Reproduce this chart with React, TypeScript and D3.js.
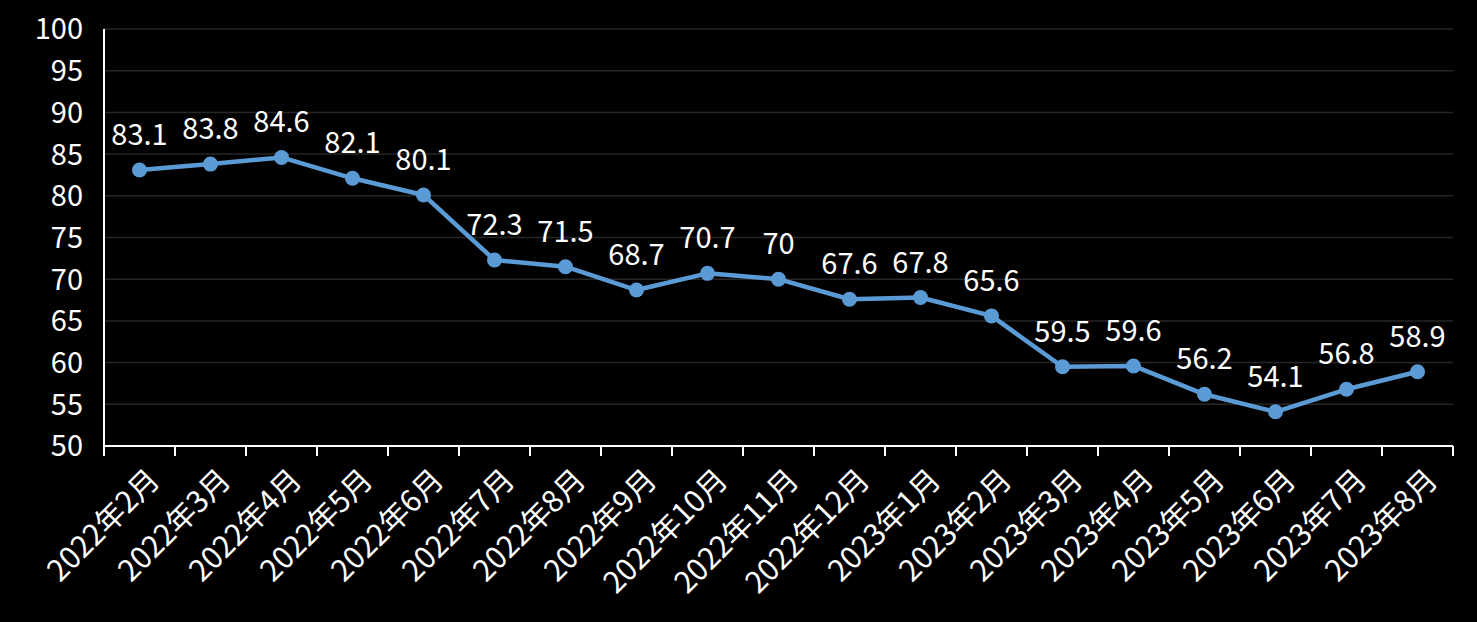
import React from "react";
import * as d3 from "d3";

const categories = ["2022年2月","2022年3月","2022年4月","2022年5月","2022年6月","2022年7月","2022年8月","2022年9月","2022年10月","2022年11月","2022年12月","2023年1月","2023年2月","2023年3月","2023年4月","2023年5月","2023年6月","2023年7月","2023年8月"];
const values = [83.1,83.8,84.6,82.1,80.1,72.3,71.5,68.7,70.7,70,67.6,67.8,65.6,59.5,59.6,56.2,54.1,56.8,58.9];
const yTicks = [50,55,60,65,70,75,80,85,90,95,100];

const W = 1477, H = 622;
const left = 104, right = 1453, top = 29, bottom = 446;
const font = "'Noto Sans CJK SC', 'Open Sans', sans-serif";

export default function App() {
  const x = d3.scaleBand<string>().domain(categories).range([left, right]).padding(0);
  const y = d3.scaleLinear().domain([50, 100]).range([bottom, top]);
  const line = d3.line<number>().x((_, i) => x(categories[i])! + x.bandwidth() / 2).y(d => y(d));
  const boundaries = d3.range(categories.length + 1).map(i => left + i * x.bandwidth());
  return (
    <svg width={W} height={H} style={{ position: "absolute", left: 0, top: 0, background: "#000" }}>
      <rect x={0} y={0} width={W} height={H} fill="#000" />
      {yTicks.filter(t => t > 50).map(t => (
        <line key={t} x1={left} x2={right} y1={y(t)} y2={y(t)} stroke="#262626" strokeWidth={1.5} />
      ))}
      {yTicks.map(t => (
        <text key={t} x={left - 21} y={y(t)} dy="0.36em" textAnchor="end" fill="#fff" fontSize={29} fontFamily={font}>{t}</text>
      ))}
      <line x1={left} x2={left} y1={top} y2={bottom + 10} stroke="#fff" strokeWidth={2} />
      <line x1={left} x2={right} y1={bottom} y2={bottom} stroke="#fff" strokeWidth={2} />
      {boundaries.map((b, i) => (
        <line key={i} x1={b} x2={b} y1={bottom} y2={bottom + 10} stroke="#fff" strokeWidth={2} />
      ))}
      {categories.map(c => {
        const cx = x(c)! + x.bandwidth() / 2 + 7;
        const cy = bottom + 21;
        return (
          <text key={c} x={cx} y={cy} transform={`rotate(-45 ${cx} ${cy})`} textAnchor="end" dy="0.7em" fill="#fff" fontSize={30} fontFamily={font}>{c}</text>
        );
      })}
      <path d={line(values)!} fill="none" stroke="#5B9BD5" strokeWidth={4.5} strokeLinejoin="round" />
      {values.map((v, i) => {
        const cx = x(categories[i])! + x.bandwidth() / 2;
        return <circle key={i} cx={cx} cy={y(v)} r={7.5} fill="#5B9BD5" />;
      })}
      {values.map((v, i) => {
        const cx = x(categories[i])! + x.bandwidth() / 2;
        return <text key={i} x={cx} y={y(v) - 25} textAnchor="middle" fill="#fff" fontSize={29} fontFamily={font}>{String(v)}</text>;
      })}
    </svg>
  );
}
